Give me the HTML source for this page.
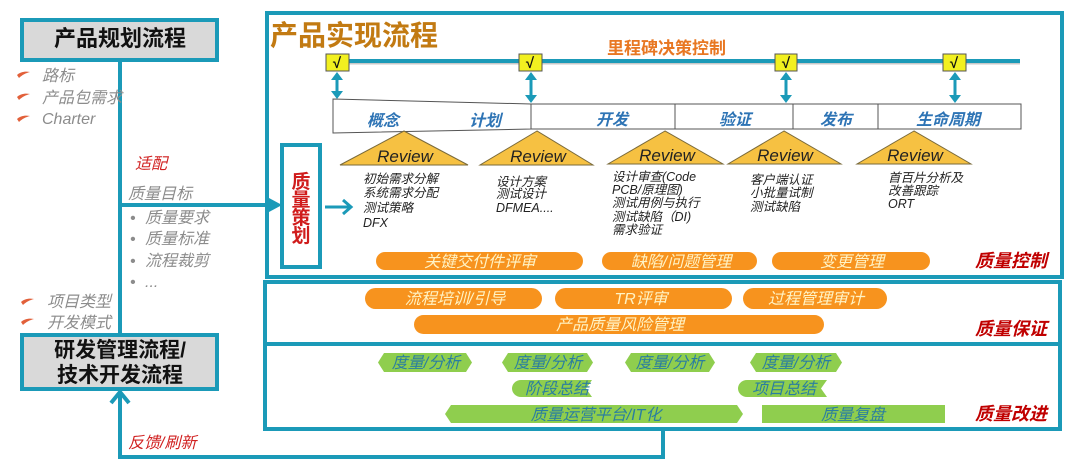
<!DOCTYPE html>
<html><head><meta charset="utf-8"><style>
html,body{margin:0;padding:0;background:#fff;width:1080px;height:472px;overflow:hidden}
svg{display:block}
text{font-family:"Liberation Sans","Noto Sans CJK SC",sans-serif}
.g{fill:#8c8c8c;font-style:italic;font-size:16px}
.d{fill:#222;font-style:italic;font-size:12.5px}
.rv{fill:#222;font-style:italic;font-size:17px}
.ph{fill:#2e74b5;font-style:italic;font-weight:bold;font-size:16px}
.op{fill:#fff3c4;font-style:italic;font-size:16px}
.gp{fill:#2a7ea0;font-style:italic;font-size:16px}
.rd{fill:#c00000;font-style:italic;font-weight:bold;font-size:18px}
</style></head><body>
<svg width="1080" height="472" viewBox="0 0 1080 472" xmlns="http://www.w3.org/2000/svg">
<defs>
<path id="chk" d="M0,3 C3,0 8,-1 13,0 C9,1 5,3 2,6 Z" fill="#e2603a"/>
</defs>

<!-- left connectors -->
<line x1="120" y1="60" x2="120" y2="335" stroke="#1b9ab8" stroke-width="4"/>
<polyline points="663,429 663,457 120,457 120,393" fill="none" stroke="#1b9ab8" stroke-width="4"/>
<polyline points="111,403 120,392 129,403" fill="none" stroke="#1b9ab8" stroke-width="4"/>

<!-- left boxes -->
<rect x="22" y="20" width="195" height="40" fill="#d9d9d9" stroke="#1b9ab8" stroke-width="4"/>
<text x="120" y="46" text-anchor="middle" font-size="22" font-weight="bold" fill="#111">产品规划流程</text>
<rect x="22" y="335" width="195" height="54" fill="#d9d9d9" stroke="#1b9ab8" stroke-width="4"/>
<text x="120" y="357" text-anchor="middle" font-size="21" font-weight="bold" fill="#111">研发管理流程/</text>
<text x="120" y="382" text-anchor="middle" font-size="21" font-weight="bold" fill="#111">技术开发流程</text>

<!-- left texts -->
<use href="#chk" x="17" y="72"/>
<use href="#chk" x="17" y="94"/>
<use href="#chk" x="17" y="116"/>
<text class="g" x="42" y="81">路标</text>
<text class="g" x="42" y="103">产品包需求</text>
<text class="g" x="42" y="124">Charter</text>
<text x="135" y="169" font-size="16" font-style="italic" fill="#d02020">适配</text>
<text class="g" x="128" y="199">质量目标</text>
<text class="g" x="130" y="223">•</text><text class="g" x="145" y="223">质量要求</text>
<text class="g" x="130" y="244">•</text><text class="g" x="145" y="244">质量标准</text>
<text class="g" x="130" y="266">•</text><text class="g" x="145" y="266">流程裁剪</text>
<text class="g" x="130" y="287">•</text><text class="g" x="145" y="287">...</text>
<use href="#chk" x="21" y="299"/>
<use href="#chk" x="21" y="319"/>
<text class="g" x="47" y="307">项目类型</text>
<text class="g" x="47" y="328">开发模式</text>
<text x="128" y="448" font-size="16" font-style="italic" fill="#d02020">反馈/刷新</text>

<!-- main boxes -->
<rect x="267" y="13" width="795" height="264" fill="#fff" stroke="#1b9ab8" stroke-width="4"/>
<rect x="265" y="282" width="795" height="62" fill="#fff" stroke="#1b9ab8" stroke-width="4"/>
<rect x="265" y="344" width="795" height="85" fill="#fff" stroke="#1b9ab8" stroke-width="4"/>

<!-- left arrow into quality planning -->
<line x1="120" y1="205" x2="274" y2="205" stroke="#1b9ab8" stroke-width="4"/>
<polygon points="269,198 282,205 269,212" fill="#1b9ab8"/>

<text x="270" y="45" font-size="28" font-weight="bold" fill="#c27a12">产品实现流程</text>
<text x="607" y="54" font-size="17" font-weight="bold" fill="#e87722">里程碑决策控制</text>

<!-- milestone line -->
<line x1="338" y1="63" x2="1020" y2="63" stroke="#c8c8c8" stroke-width="3"/>
<line x1="338" y1="61" x2="1020" y2="61" stroke="#1b9ab8" stroke-width="4"/>

<!-- double arrows -->
<g fill="#1b9ab8" stroke="#1b9ab8">
<line x1="337" y1="78" x2="337" y2="93" stroke-width="3"/>
<polygon points="337,72 331,80 343,80" stroke="none"/><polygon points="337,99 331,91 343,91" stroke="none"/>
<line x1="531" y1="78" x2="531" y2="97" stroke-width="3"/>
<polygon points="531,72 525,80 537,80" stroke="none"/><polygon points="531,103 525,95 537,95" stroke="none"/>
<line x1="786" y1="78" x2="786" y2="97" stroke-width="3"/>
<polygon points="786,72 780,80 792,80" stroke="none"/><polygon points="786,103 780,95 792,95" stroke="none"/>
<line x1="955" y1="78" x2="955" y2="97" stroke-width="3"/>
<polygon points="955,72 949,80 961,80" stroke="none"/><polygon points="955,103 949,95 961,95" stroke="none"/>
</g>

<!-- checkboxes -->
<g stroke="#555" stroke-width="1" fill="#f2f020">
<rect x="326" y="54" width="23" height="17"/>
<rect x="519" y="54" width="23" height="17"/>
<rect x="775" y="54" width="22" height="17"/>
<rect x="943" y="54" width="23" height="17"/>
</g>
<g font-size="15" font-weight="bold" fill="#111" text-anchor="middle">
<text x="337" y="68">√</text><text x="530" y="68">√</text><text x="786" y="68">√</text><text x="954" y="68">√</text>
</g>

<!-- phase bar -->
<polygon points="333,99 531,104 531,129 333,133" fill="#fff" stroke="#555" stroke-width="1"/>
<rect x="531" y="104" width="490" height="25" fill="#fff" stroke="#555" stroke-width="1"/>
<g stroke="#555" stroke-width="1">
<line x1="675" y1="104" x2="675" y2="129"/><line x1="793" y1="104" x2="793" y2="129"/><line x1="878" y1="104" x2="878" y2="129"/>
</g>
<g text-anchor="middle">
<text class="ph" x="383" y="126">概念</text>
<text class="ph" x="485" y="126">计划</text>
<text class="ph" x="612" y="125">开发</text>
<text class="ph" x="735" y="125">验证</text>
<text class="ph" x="836" y="125">发布</text>
<text class="ph" x="948" y="125">生命周期</text>
</g>

<!-- review triangles -->
<g fill="#f6c142" stroke="#7a6a3a" stroke-width="1">
<polygon points="404,131 340,165 468,165"/>
<polygon points="537,131 480,165 593,165"/>
<polygon points="665,131 608,164 723,164"/>
<polygon points="784,131 728,164 841,164"/>
<polygon points="914,131 857,164 971,164"/>
</g>
<g text-anchor="middle">
<text class="rv" x="405" y="162">Review</text>
<text class="rv" x="538" y="162">Review</text>
<text class="rv" x="667" y="161">Review</text>
<text class="rv" x="785" y="161">Review</text>
<text class="rv" x="915" y="161">Review</text>
</g>

<!-- descriptions -->
<text class="d" x="363" y="183">初始需求分解</text>
<text class="d" x="363" y="197">系统需求分配</text>
<text class="d" x="363" y="212">测试策略</text>
<text class="d" x="363" y="227">DFX</text>
<text class="d" x="496" y="186">设计方案</text>
<text class="d" x="496" y="198">测试设计</text>
<text class="d" x="496" y="212">DFMEA....</text>
<text class="d" x="612" y="181">设计审查(Code</text>
<text class="d" x="612" y="194">PCB/原理图)</text>
<text class="d" x="612" y="207">测试用例与执行</text>
<text class="d" x="612" y="221">测试缺陷（DI)</text>
<text class="d" x="612" y="234">需求验证</text>
<text class="d" x="750" y="184">客户端认证</text>
<text class="d" x="750" y="197">小批量试制</text>
<text class="d" x="750" y="211">测试缺陷</text>
<text class="d" x="888" y="182">首百片分析及</text>
<text class="d" x="888" y="195">改善跟踪</text>
<text class="d" x="888" y="208">ORT</text>

<!-- quality planning box -->
<rect x="282" y="145" width="38" height="122" fill="#fff" stroke="#1b9ab8" stroke-width="4"/>
<g font-size="19" font-weight="bold" fill="#d01c1c" text-anchor="middle">
<text x="301" y="188">质</text><text x="301" y="206">量</text><text x="301" y="224">策</text><text x="301" y="242">划</text>
</g>
<line x1="325" y1="207" x2="350" y2="207" stroke="#1b9ab8" stroke-width="3"/>
<polyline points="343,200 351,207 343,214" fill="none" stroke="#1b9ab8" stroke-width="3"/>

<!-- orange pills -->
<g fill="#f7931e">
<rect x="376" y="252" width="207" height="18" rx="9"/>
<rect x="602" y="252" width="155" height="18" rx="9"/>
<rect x="772" y="252" width="158" height="18" rx="9"/>
<rect x="365" y="288" width="177" height="21" rx="10.5"/>
<rect x="555" y="288" width="177" height="21" rx="10.5"/>
<rect x="743" y="288" width="144" height="21" rx="10.5"/>
<rect x="414" y="315" width="410" height="19" rx="9.5"/>
</g>
<g text-anchor="middle">
<text class="op" x="480" y="267">关键交付件评审</text>
<text class="op" x="681" y="267">缺陷/问题管理</text>
<text class="op" x="852" y="267">变更管理</text>
<text class="op" x="455" y="304">流程培训/引导</text>
<text class="op" x="641" y="304">TR评审</text>
<text class="op" x="816" y="304">过程管理审计</text>
<text class="op" x="620" y="330">产品质量风险管理</text>
</g>

<!-- green shapes -->
<g fill="#8fce4e">
<path d="M378,362.5 L384,353 L466,353 L472,362.5 L466,372 L384,372 Z"/>
<path d="M502,362.5 L508,353 L587,353 L593,362.5 L587,372 L508,372 Z"/>
<path d="M625,362.5 L631,353 L709,353 L715,362.5 L709,372 L631,372 Z"/>
<path d="M750,362.5 L756,353 L836,353 L842,362.5 L836,372 L756,372 Z"/>
<path d="M521,380 L592,380 L586,388.5 L592,397 L521,397 A9,8.5 0 0 1 521,380 Z"/>
<path d="M747,380 L827,380 L821,388.5 L827,397 L747,397 A9,8.5 0 0 1 747,380 Z"/>
<path d="M445,414 L451,405 L737,405 L743,414 L737,423 L451,423 Z"/>
<rect x="762" y="405" width="183" height="18"/>
</g>
<g text-anchor="middle">
<text class="gp" x="426" y="368">度量/分析</text>
<text class="gp" x="548" y="368">度量/分析</text>
<text class="gp" x="670" y="368">度量/分析</text>
<text class="gp" x="796" y="368">度量/分析</text>
<text class="gp" x="557" y="394">阶段总结</text>
<text class="gp" x="784" y="394">项目总结</text>
<text class="gp" x="596" y="420">质量运营平台/IT化</text>
<text class="gp" x="853" y="420">质量复盘</text>
</g>

<!-- section labels -->
<text class="rd" x="975" y="267">质量控制</text>
<text class="rd" x="975" y="335">质量保证</text>
<text class="rd" x="975" y="420">质量改进</text>
</svg>
</body></html>
